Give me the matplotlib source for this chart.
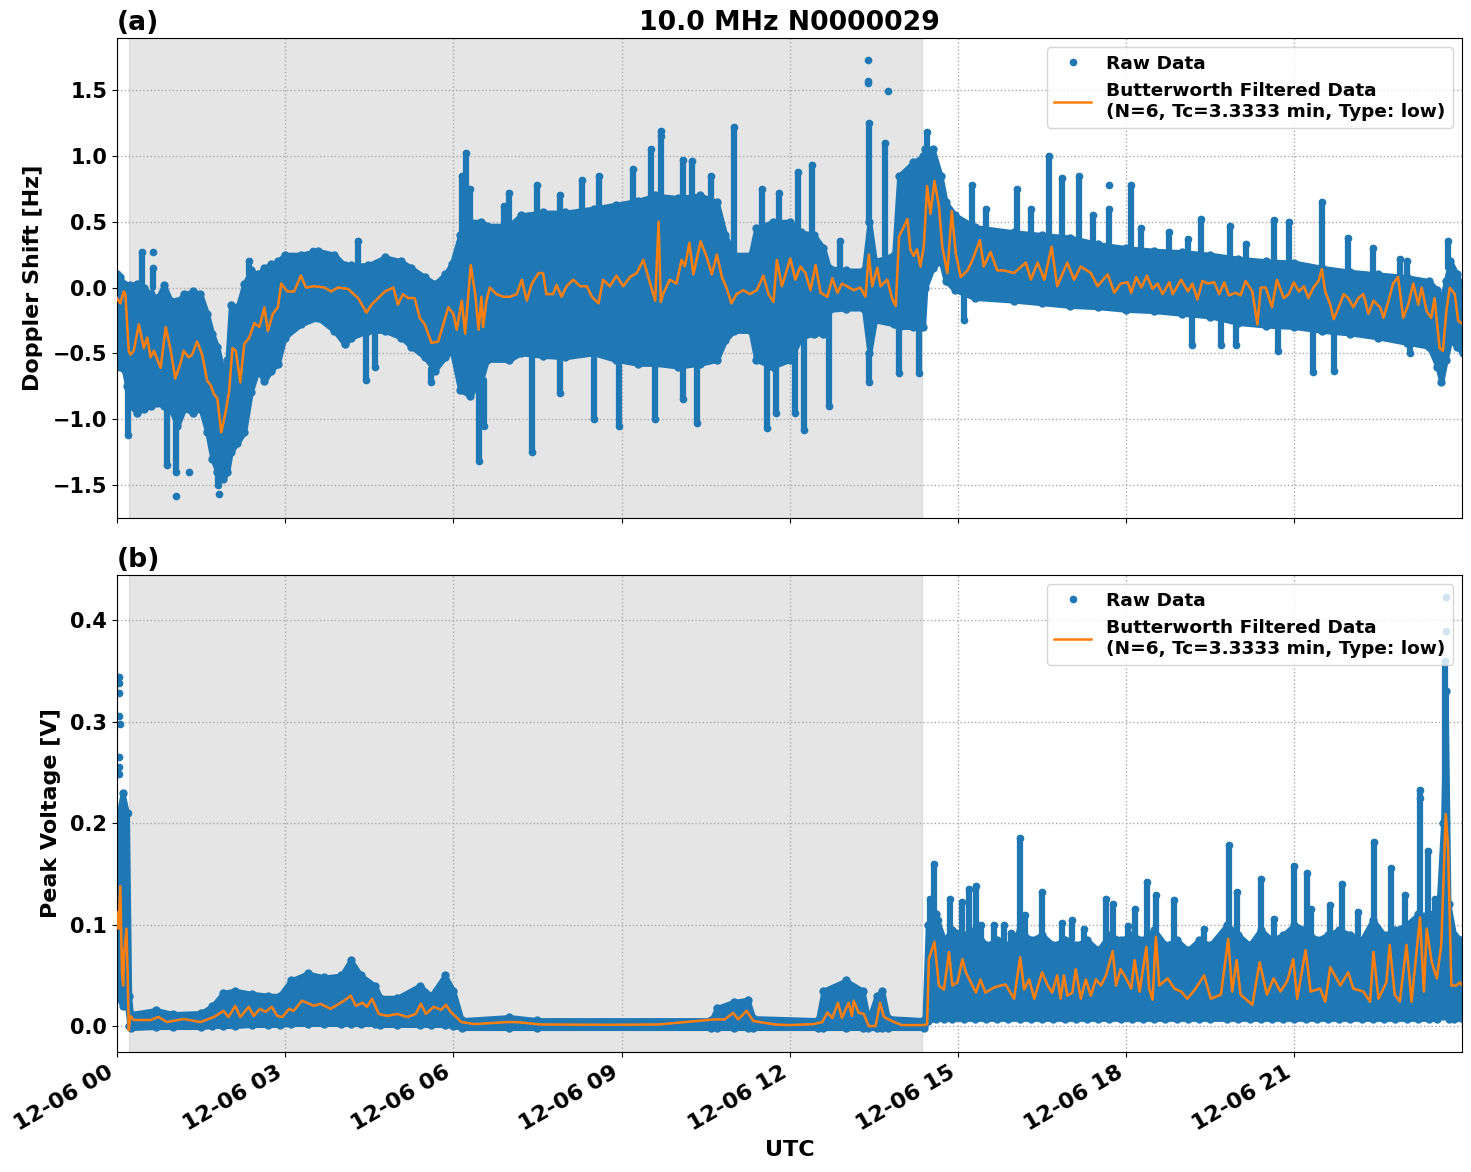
import numpy as np
import pandas as pd
import matplotlib
matplotlib.use("Agg")
import matplotlib.pyplot as plt
import matplotlib.dates as mdates
from matplotlib.lines import Line2D

# ---------------- data (hours after 2024-12-06 00:00 UTC) ----------------
title = "10.0 MHz N0000029"
filt_label = "Butterworth Filtered Data\n(N=6, Tc=3.3333 min, Type: low)"
night_start_h = 0.21
night_end_h = 14.36

# Doppler: filtered line
dop_line_h = [0.00, 0.06, 0.12, 0.15, 0.21, 0.24, 0.30, 0.39, 0.48, 0.54, 0.60, 0.66, 0.75, 0.78, 0.87, 0.96,
              1.04, 1.13, 1.19, 1.28, 1.34, 1.43, 1.52, 1.61, 1.67, 1.73, 1.79, 1.86, 1.94, 2.00, 2.06, 2.12,
              2.20, 2.27, 2.36, 2.45, 2.54, 2.63, 2.69, 2.78, 2.87, 2.93, 3.04, 3.16, 3.28, 3.37, 3.52, 3.70,
              3.82, 3.94, 4.12, 4.30, 4.45, 4.54, 4.66, 4.78, 4.93, 5.01, 5.10, 5.19, 5.31, 5.40, 5.49, 5.61,
              5.73, 5.82, 5.91, 6.00, 6.06, 6.15, 6.21, 6.31, 6.39, 6.45, 6.50, 6.53, 6.59, 6.65, 6.77, 6.89,
              7.01, 7.13, 7.22, 7.31, 7.40, 7.52, 7.60, 7.66, 7.78, 7.84, 7.93, 8.02, 8.14, 8.26, 8.38, 8.47,
              8.59, 8.67, 8.79, 8.91, 9.03, 9.15, 9.27, 9.39, 9.51, 9.60, 9.66, 9.70, 9.74, 9.86, 9.98, 10.07,
              10.13, 10.21, 10.28, 10.41, 10.52, 10.61, 10.70, 10.79, 10.87, 10.96, 11.05, 11.17, 11.29, 11.41,
              11.53, 11.62, 11.71, 11.77, 11.86, 12.01, 12.10, 12.19, 12.28, 12.37, 12.46, 12.55, 12.67, 12.76,
              12.85, 12.93, 13.02, 13.14, 13.26, 13.35, 13.41, 13.47, 13.56, 13.62, 13.74, 13.83, 13.89, 13.95,
              14.01, 14.10, 14.15, 14.21, 14.27, 14.33, 14.39, 14.45, 14.51, 14.58, 14.66, 14.72, 14.81, 14.89,
              14.96, 15.05, 15.17, 15.26, 15.39, 15.46, 15.58, 15.70, 15.82, 16.00, 16.21, 16.30, 16.42, 16.54,
              16.67, 16.77, 16.95, 17.07, 17.19, 17.37, 17.49, 17.67, 17.79, 17.90, 18.03, 18.09, 18.18, 18.27,
              18.37, 18.47, 18.56, 18.65, 18.77, 18.83, 18.98, 19.10, 19.18, 19.27, 19.36, 19.45, 19.57, 19.66,
              19.75, 19.83, 19.95, 20.04, 20.13, 20.25, 20.34, 20.40, 20.49, 20.60, 20.69, 20.81, 20.90, 20.99,
              21.08, 21.17, 21.25, 21.34, 21.43, 21.49, 21.55, 21.64, 21.70, 21.79, 21.88, 21.96, 22.05, 22.14,
              22.23, 22.32, 22.41, 22.53, 22.59, 22.68, 22.76, 22.85, 22.94, 23.03, 23.12, 23.21, 23.27, 23.36,
              23.44, 23.50, 23.59, 23.65, 23.71, 23.77, 23.86, 23.92, 23.98]
dop_line_v = [-0.08, -0.12, -0.03, -0.05, -0.48, -0.51, -0.48, -0.28, -0.46, -0.38, -0.53, -0.48, -0.58, -0.61, -0.30, -0.48,
              -0.69, -0.58, -0.48, -0.53, -0.51, -0.41, -0.51, -0.71, -0.74, -0.81, -0.84, -1.10, -0.94, -0.79, -0.46, -0.48,
              -0.72, -0.43, -0.38, -0.27, -0.30, -0.15, -0.33, -0.20, -0.15, 0.03, -0.03, -0.03, 0.09, 0.00, 0.01, 0.00,
              -0.03, 0.00, -0.01, -0.08, -0.19, -0.13, -0.08, -0.03, 0.00, -0.13, -0.05, -0.08, -0.08, -0.23, -0.28, -0.42,
              -0.41, -0.28, -0.15, -0.20, -0.32, -0.10, -0.35, 0.17, -0.05, -0.32, -0.07, -0.30, -0.10, 0.00, -0.05, -0.07,
              -0.07, -0.05, 0.06, -0.10, 0.03, 0.11, 0.11, -0.05, -0.05, 0.02, -0.07, 0.01, 0.06, 0.01, 0.01, -0.07,
              -0.12, 0.06, 0.01, 0.09, 0.01, 0.08, 0.11, 0.21, 0.03, -0.10, 0.50, -0.11, -0.05, 0.06, 0.03, 0.21,
              0.16, 0.34, 0.10, 0.35, 0.23, 0.10, 0.25, 0.08, 0.00, -0.12, -0.05, -0.02, -0.05, -0.02,
              0.09, -0.05, -0.11, 0.21, 0.01, 0.22, 0.06, 0.16, 0.11, -0.02, 0.17, -0.04, -0.07, 0.07,
              -0.04, 0.03, 0.01, -0.02, 0.00, -0.07, 0.25, 0.01, 0.15, 0.01, 0.06, -0.09, -0.14, 0.39,
              0.44, 0.52, 0.29, 0.24, 0.29, 0.16, 0.31, 0.77, 0.56, 0.81, 0.62, 0.31, 0.11, 0.58,
              0.26, 0.08, 0.13, 0.21, 0.36, 0.16, 0.27, 0.13, 0.13, 0.11, 0.19, 0.06, 0.19, 0.06,
              0.31, 0.01, 0.19, 0.06, 0.16, 0.11, 0.01, 0.10, -0.04, 0.03, 0.04, -0.04, 0.08, 0.00,
              0.09, -0.01, 0.03, -0.05, 0.04, -0.05, 0.06, -0.03, 0.03, -0.09, 0.05, 0.03, 0.04, -0.05,
              0.04, -0.06, -0.04, -0.06, 0.05, -0.03, -0.28, 0.00, 0.00, -0.15, 0.06, -0.08, -0.05, 0.04,
              -0.03, 0.01, -0.08, 0.00, 0.05, 0.14, -0.03, -0.13, -0.24, -0.15, -0.05, -0.08, -0.15, -0.08,
              -0.05, -0.20, -0.10, -0.15, -0.23, -0.10, 0.03, 0.08, -0.23, -0.13, 0.03, -0.13, 0.00, -0.18,
              -0.23, -0.08, -0.46, -0.48, -0.18, 0.00, -0.05, -0.25, -0.27]

# Doppler: dense raw-data band (lower / upper edge)
dop_band_h = [0.00, 0.06, 0.12, 0.18, 0.24, 0.36, 0.48, 0.60, 0.72, 0.84, 0.96, 1.08, 1.20, 1.35, 1.49,
              1.61, 1.70, 1.79, 1.90, 1.97, 2.03, 2.15, 2.27, 2.39, 2.51, 2.63, 2.75, 2.87, 2.99, 3.28, 3.58,
              3.88, 4.06, 4.18, 4.48, 4.78, 5.07, 5.25, 5.49, 5.67, 5.85, 5.97, 6.12, 6.30, 6.50, 6.60, 7.00,
              7.20, 7.60, 8.00, 8.50, 8.90, 9.30, 9.60, 10.00, 10.40, 10.70, 10.85, 11.00, 11.30, 11.40, 11.70,
              12.00, 12.20, 12.43, 12.60, 12.70, 13.00, 13.32, 13.42, 13.52, 13.86, 13.95, 14.20, 14.38, 14.42,
              14.55, 14.69, 14.78, 14.95, 15.30, 16.00, 16.50, 17.00, 17.50, 18.00, 18.50, 19.00, 19.50, 20.00,
              20.50, 21.00, 21.50, 22.00, 22.50, 23.00, 23.40, 23.55, 23.62, 23.70, 23.78, 23.90, 24.00]
dop_band_lo = [-0.55, -0.60, -0.62, -0.75, -0.90, -0.95, -0.92, -0.90, -0.88, -0.90, -0.93, -1.05, -0.92, -0.95,
               -0.92, -1.10, -1.30, -1.40, -1.45, -1.40, -1.25, -1.18, -1.10, -0.79, -0.63, -0.71, -0.63, -0.58,
               -0.38, -0.28, -0.23, -0.33, -0.43, -0.38, -0.33, -0.33, -0.38, -0.45, -0.53, -0.63, -0.53, -0.48,
               -0.78, -0.82, -0.70, -0.55, -0.55, -0.50, -0.52, -0.53, -0.50, -0.55, -0.58, -0.58, -0.60, -0.58,
               -0.55, -0.40, -0.33, -0.33, -0.55, -0.60, -0.55, -0.38, -0.35, -0.35, -0.17, -0.16, -0.16, -0.50,
               -0.25, -0.28, -0.30, -0.30, -0.30, 0.00, 0.15, 0.20, 0.05, -0.02, -0.08, -0.10, -0.12, -0.14, -0.15,
               -0.17, -0.18, -0.20, -0.22, -0.27, -0.29, -0.30, -0.33, -0.35, -0.38, -0.42, -0.45, -0.60, -0.72,
               -0.55, -0.40, -0.45, -0.50]
dop_band_hi = [0.10, 0.08, 0.03, -0.05, 0.02, 0.03, 0.00, -0.05, -0.08, 0.02, -0.10, -0.10, -0.05, -0.03, -0.05,
               -0.20, -0.35, -0.45, -0.65, -0.55, -0.13, -0.15, 0.03, 0.13, 0.10, 0.15, 0.18, 0.20, 0.25, 0.25,
               0.28, 0.25, 0.17, 0.17, 0.17, 0.23, 0.20, 0.15, 0.08, 0.03, 0.10, 0.18, 0.40, 0.50, 0.50, 0.47,
               0.47, 0.55, 0.57, 0.57, 0.60, 0.63, 0.66, 0.70, 0.68, 0.70, 0.65, 0.40, 0.25, 0.25, 0.45, 0.50,
               0.50, 0.42, 0.40, 0.30, 0.15, 0.13, 0.13, 0.50, 0.20, 0.25, 0.85, 0.95, 1.00, 1.05, 1.05, 0.85,
               0.65, 0.55, 0.46, 0.42, 0.40, 0.38, 0.33, 0.30, 0.28, 0.27, 0.25, 0.22, 0.20, 0.19, 0.15, 0.12,
               0.10, 0.08, 0.05, -0.02, -0.10, 0.05, 0.20, 0.10, 0.00]

# Doppler: isolated columns of raw points (time, from, to)
dop_col_h = [0.45, 0.65, 2.35, 3.50, 4.30, 6.15, 6.22, 6.30, 6.90, 7.00, 7.50, 7.90, 8.30, 8.60, 9.20, 9.52,
             9.70, 10.10, 10.25, 10.60, 11.00, 11.50, 11.80, 12.15, 12.40, 12.90, 13.42, 13.70, 14.45, 15.25,
             15.50, 16.05, 16.30, 16.62, 16.85, 17.15, 17.40, 17.70, 18.08, 18.27, 18.77, 19.10, 19.33, 19.85,
             20.13, 20.63, 20.90, 21.49, 21.96, 22.40, 22.88, 23.00, 23.74,
             0.20, 0.90, 1.05, 1.80, 4.45, 4.60, 5.60, 6.45, 6.55, 7.40, 7.90, 8.50, 8.95, 9.60, 10.35, 10.10,
             11.60, 11.75, 12.10, 12.25, 12.70, 13.42, 13.95, 14.30, 15.10, 19.18, 19.69, 19.95, 20.70, 21.34,
             21.70, 23.06]
dop_col_from = [0.00, 0.00, 0.10, 0.25, 0.17, 0.40, 0.45, 0.45, 0.43, 0.43, 0.50, 0.50, 0.50, 0.55, 0.55, 0.60,
                0.60, 0.60, 0.60, 0.60, 0.25, 0.45, 0.50, 0.42, 0.40, 0.13, 0.50, 0.25, 1.00, 0.46,
                0.45, 0.42, 0.40, 0.40, 0.38, 0.36, 0.33, 0.32, 0.30, 0.30, 0.28, 0.27, 0.26, 0.22,
                0.22, 0.20, 0.19, 0.15, 0.12, 0.10, 0.08, 0.08, 0.15,
                -0.60, -0.90, -1.00, -1.40, -0.33, -0.33, -0.62, -0.75, -0.70, -0.45, -0.48, -0.45, -0.50, -0.52,
                -0.52, -0.55, -0.55, -0.60, -0.45, -0.38, -0.17, -0.50, -0.30, -0.30, -0.05, -0.20, -0.23, -0.24,
                -0.29, -0.30, -0.33, -0.42]
dop_col_to = [0.27, 0.15, 0.20, 0.28, 0.35, 0.85, 1.02, 0.75, 0.62, 0.72, 0.78, 0.70, 0.82, 0.85, 0.90, 1.05,
              1.19, 0.97, 0.96, 0.85, 1.22, 0.75, 0.72, 0.88, 0.93, 0.35, 1.25, 1.10, 1.18, 0.78,
              0.60, 0.75, 0.60, 1.00, 0.83, 0.85, 0.55, 0.60, 0.78, 0.45, 0.42, 0.37, 0.52, 0.47,
              0.33, 0.51, 0.50, 0.65, 0.38, 0.30, 0.22, 0.20, 0.35,
              -1.12, -1.35, -1.40, -1.50, -0.70, -0.60, -0.72, -1.32, -1.05, -1.25, -0.80, -1.00, -1.05, -1.00,
              -1.03, -0.85, -1.07, -0.95, -0.95, -1.08, -0.90, -0.72, -0.65, -0.65, -0.25, -0.44, -0.44, -0.44,
              -0.48, -0.64, -0.63, -0.50]

# Doppler: lone raw points
dop_pt_h = [13.40, 13.40, 13.40, 13.75, 1.06, 1.82, 1.28, 17.70, 0.65, 9.70]
dop_pt_v = [1.73, 1.57, 1.55, 1.49, -1.58, -1.57, -1.40, 0.78, 0.27, 1.15]

# Peak voltage: filtered line
pv_line_h = [0.00, 0.03, 0.06, 0.09, 0.11, 0.13, 0.17, 0.19, 0.21, 0.24, 0.30, 0.60, 0.74, 0.89, 1.19, 1.49,
             1.73, 1.90, 1.99, 2.11, 2.20, 2.35, 2.44, 2.55, 2.65, 2.76, 2.86, 2.95, 3.07, 3.15, 3.30, 3.39,
             3.51, 3.63, 3.81, 4.05, 4.17, 4.26, 4.38, 4.46, 4.55, 4.67, 4.82, 5.00, 5.18, 5.33, 5.42, 5.51,
             5.65, 5.78, 5.87, 5.95, 6.07, 6.14, 6.38, 6.97, 7.12, 7.56, 8.75, 9.65, 10.66, 10.84, 10.99,
             11.08, 11.23, 11.35, 11.74, 12.00, 12.43, 12.58, 12.67, 12.76, 12.86, 12.93, 13.05, 13.11, 13.14,
             13.23, 13.32, 13.41, 13.53, 13.61, 13.68, 13.86, 14.00, 14.40, 14.45, 14.48, 14.58, 14.66, 14.75,
             14.84, 14.90, 14.99, 15.08, 15.14, 15.23, 15.32, 15.40, 15.49, 15.64, 15.76, 15.85, 16.00, 16.11,
             16.18, 16.27, 16.36, 16.50, 16.60, 16.68, 16.77, 16.83, 16.89, 16.95, 17.04, 17.10, 17.19, 17.28,
             17.37, 17.46, 17.55, 17.64, 17.76, 17.82, 17.90, 18.00, 18.09, 18.15, 18.24, 18.36, 18.41, 18.47,
             18.53, 18.59, 18.74, 18.86, 18.98, 19.09, 19.24, 19.39, 19.51, 19.69, 19.82, 19.89, 19.97, 20.04,
             20.25, 20.38, 20.51, 20.63, 20.75, 20.87, 20.98, 21.05, 21.20, 21.29, 21.46, 21.55, 21.64, 21.82,
             21.96, 22.05, 22.23, 22.35, 22.41, 22.50, 22.64, 22.70, 22.79, 22.88, 23.00, 23.09, 23.24, 23.31,
             23.36, 23.45, 23.54, 23.62, 23.70, 23.74, 23.80, 23.89, 23.95, 24.00]
pv_line_v = [0.112, 0.096, 0.138, 0.053, 0.040, 0.073, 0.096, 0.053, -0.004, 0.010, 0.006, 0.006, 0.009, 0.004,
             0.007, 0.004, 0.009, 0.015, 0.009, 0.020, 0.009, 0.019, 0.010, 0.017, 0.014, 0.019, 0.010, 0.009,
             0.017, 0.015, 0.025, 0.023, 0.020, 0.022, 0.017, 0.025, 0.030, 0.020, 0.023, 0.019, 0.027, 0.012,
             0.010, 0.012, 0.009, 0.012, 0.022, 0.012, 0.019, 0.016, 0.021, 0.014, 0.008, 0.004, 0.002, 0.004,
             0.004, 0.0016, 0.0013, 0.0016, 0.0066, 0.0066, 0.013, 0.0066, 0.015, 0.005, 0.0016, 0.001, 0.002,
             0.004, 0.0135, 0.008, 0.023, 0.008, 0.023, 0.010, 0.025, 0.013, 0.012, 0.000, 0.000, 0.023, 0.009,
             0.004, 0.001, 0.001, 0.002, 0.066, 0.083, 0.040, 0.036, 0.073, 0.040, 0.043, 0.066, 0.053, 0.043,
             0.033, 0.046, 0.033, 0.038, 0.040, 0.041, 0.027, 0.068, 0.036, 0.046, 0.027, 0.053, 0.040, 0.033,
             0.050, 0.027, 0.050, 0.030, 0.033, 0.056, 0.027, 0.046, 0.030, 0.046, 0.040, 0.050, 0.074, 0.040,
             0.056, 0.047, 0.037, 0.065, 0.034, 0.078, 0.037, 0.026, 0.088, 0.040, 0.047, 0.037, 0.034, 0.027,
             0.037, 0.050, 0.027, 0.031, 0.086, 0.034, 0.065, 0.031, 0.021, 0.063, 0.031, 0.047, 0.034, 0.044,
             0.066, 0.027, 0.075, 0.034, 0.037, 0.024, 0.058, 0.040, 0.053, 0.037, 0.034, 0.024, 0.073, 0.027,
             0.043, 0.080, 0.031, 0.024, 0.080, 0.024, 0.107, 0.034, 0.096, 0.063, 0.047, 0.080, 0.209, 0.177,
             0.040, 0.040, 0.043, 0.040]

# Peak voltage: dense raw-data band
pv_band_h = [0.00, 0.10, 0.18, 0.22, 0.25, 0.70, 1.00, 1.50, 1.70, 1.90, 2.10, 2.40, 2.70, 2.90, 3.10, 3.40,
             3.70, 4.00, 4.17, 4.35, 4.60, 4.70, 5.00, 5.40, 5.60, 5.85, 6.00, 6.15, 7.00, 7.50, 10.60, 10.70,
             11.00, 11.25, 11.35, 12.50, 12.60, 13.00, 13.30, 13.40, 13.55, 13.65, 13.75, 14.40, 14.46, 14.60,
             14.75, 14.90, 15.10, 15.30, 15.50, 15.70, 15.90, 16.10, 16.30, 16.50, 16.70, 16.90, 17.10, 17.30,
             17.50, 17.70, 17.90, 18.10, 18.30, 18.50, 18.70, 18.90, 19.10, 19.30, 19.50, 19.80, 20.00, 20.20,
             20.40, 20.60, 20.80, 21.00, 21.20, 21.40, 21.60, 21.80, 22.00, 22.20, 22.40, 22.60, 22.80, 23.00,
             23.20, 23.40, 23.55, 23.65, 23.70, 23.75, 23.85, 24.00]
pv_band_lo = [0.030, 0.020, 0.020, 0.000, -0.002, -0.001, -0.001, -0.001, 0.000, 0.000, 0.000, 0.001, 0.001,
              0.001, 0.002, 0.002, 0.002, 0.002, 0.002, 0.002, 0.002, 0.001, 0.001, 0.001, 0.001, 0.001, 0.000,
              -0.002, -0.002, -0.002, -0.002, -0.002, -0.002, -0.002, -0.002, -0.002, -0.002, -0.002, -0.002,
              -0.002, -0.002, -0.002, -0.002, -0.002, 0.005, 0.007, 0.007, 0.007, 0.007, 0.007, 0.007, 0.007,
              0.007, 0.007, 0.007, 0.007, 0.007, 0.007, 0.007, 0.007, 0.007, 0.007, 0.007, 0.007, 0.007, 0.007,
              0.007, 0.007, 0.007, 0.007, 0.007, 0.007, 0.007, 0.007, 0.007, 0.007, 0.007, 0.007, 0.007, 0.007,
              0.007, 0.007, 0.007, 0.007, 0.007, 0.007, 0.007, 0.007, 0.007, 0.007, 0.007, 0.010, 0.020, 0.007,
              0.007, 0.007]
pv_band_hi = [0.200, 0.230, 0.210, 0.030, 0.012, 0.016, 0.012, 0.013, 0.020, 0.033, 0.035, 0.032, 0.030,
              0.030, 0.045, 0.052, 0.048, 0.050, 0.065, 0.050, 0.040, 0.028, 0.028, 0.040, 0.030, 0.050, 0.035,
              0.006, 0.009, 0.006, 0.006, 0.018, 0.024, 0.026, 0.008, 0.006, 0.035, 0.045, 0.035, 0.006, 0.030,
              0.035, 0.008, 0.006, 0.100, 0.110, 0.085, 0.095, 0.090, 0.095, 0.080, 0.085, 0.080, 0.095, 0.085,
              0.090, 0.080, 0.085, 0.080, 0.085, 0.075, 0.090, 0.085, 0.090, 0.085, 0.095, 0.080, 0.085, 0.075,
              0.085, 0.080, 0.100, 0.090, 0.080, 0.095, 0.085, 0.090, 0.100, 0.095, 0.085, 0.090, 0.095, 0.090,
              0.085, 0.105, 0.090, 0.095, 0.100, 0.110, 0.110, 0.100, 0.200, 0.330, 0.120, 0.090, 0.085]

# Peak voltage: spikes of raw points (time, from, to)
pv_col_h = [14.51, 14.58, 14.65, 14.86, 15.08, 15.20, 15.32, 15.41, 15.64, 15.82, 15.94, 16.10, 16.20, 16.50,
            16.86, 17.04, 17.25, 17.64, 17.76, 18.03, 18.15, 18.38, 18.53, 18.86, 19.39, 19.83, 19.98, 20.40,
            20.63, 20.99, 21.22, 21.30, 21.64, 21.85, 22.14, 22.42, 22.72, 22.97, 23.24, 23.38, 23.50, 23.69]
pv_col_from = [0.09, 0.10, 0.10, 0.09, 0.09, 0.09, 0.09, 0.085, 0.08, 0.08, 0.08, 0.09, 0.09, 0.085,
               0.085, 0.085, 0.08, 0.08, 0.08, 0.085, 0.085, 0.085, 0.09, 0.085, 0.085, 0.09, 0.085, 0.09,
               0.09, 0.09, 0.09, 0.09, 0.09, 0.09, 0.09, 0.09, 0.09, 0.10, 0.10, 0.10, 0.10, 0.20]
pv_col_to = [0.125, 0.160, 0.105, 0.125, 0.122, 0.135, 0.138, 0.100, 0.100, 0.100, 0.092, 0.185, 0.109, 0.132,
             0.102, 0.105, 0.096, 0.125, 0.120, 0.099, 0.115, 0.142, 0.129, 0.124, 0.096, 0.178, 0.132, 0.145,
             0.106, 0.158, 0.151, 0.115, 0.119, 0.140, 0.112, 0.181, 0.156, 0.129, 0.233, 0.173, 0.125, 0.360]

# Peak voltage: lone raw points
pv_pt_h = [0.04, 0.04, 0.04, 0.04, 0.05, 0.04, 0.04, 0.04, 0.20, 23.70, 23.70, 23.24]
pv_pt_v = [0.344, 0.338, 0.328, 0.306, 0.298, 0.265, 0.255, 0.248, 0.210, 0.423, 0.389, 0.225]

# ---------------- plotting ----------------
plt.rcParams["font.family"] = ["DejaVu Sans"]
plt.rcParams["font.weight"] = "bold"
plt.rcParams["axes.labelweight"] = "bold"
plt.rcParams["axes.titleweight"] = "bold"

start = pd.Timestamp("2024-12-06 00:00")


def T(h):
    return start + pd.to_timedelta(np.asarray(h, dtype=float), unit="h")


raw_c = "#1f77b4"
filt_c = "#ff7f0e"

fig = plt.figure(figsize=(14.71, 11.72), dpi=100)
ax1 = fig.add_axes([0.0795, 0.558, 0.9144, 0.4096])
ax2 = fig.add_axes([0.0795, 0.1024, 0.9144, 0.4070], sharex=ax1)

panels = [
    (ax1, dop_band_h, dop_band_lo, dop_band_hi, dop_col_h, dop_col_from, dop_col_to,
     dop_pt_h, dop_pt_v, dop_line_h, dop_line_v, "Doppler Shift [Hz]", "(a)", (-1.75, 1.895)),
    (ax2, pv_band_h, pv_band_lo, pv_band_hi, pv_col_h, pv_col_from, pv_col_to,
     pv_pt_h, pv_pt_v, pv_line_h, pv_line_v, "Peak Voltage [V]", "(b)", (-0.0255, 0.4445)),
]

for (ax, bh, blo, bhi, ch, cf, ct, ph, pv, lh, lv, ylab, tag, ylim) in panels:
    ax.axvspan(T([night_start_h])[0], T([night_end_h])[0], color="grey", alpha=0.2, zorder=0.5)
    ax.fill_between(T(bh), blo, bhi, color=raw_c, lw=3.5, edgecolor=raw_c, zorder=2)
    ax.plot(T(bh), bhi, "o", color=raw_c, ms=5, zorder=2)
    ax.plot(T(bh), blo, "o", color=raw_c, ms=5, zorder=2)
    lc = ax.vlines(T(ch), cf, ct, color=raw_c, lw=4.5, zorder=2)
    lc.set_capstyle("round")
    ax.plot(T(ch), ct, "o", color=raw_c, ms=4.5, zorder=2)
    ax.plot(T(ph), pv, "o", color=raw_c, ms=4.5, zorder=2)
    ax.plot(T(lh), lv, color=filt_c, lw=1.8, zorder=3)
    ax.set_ylim(*ylim)
    ax.set_ylabel(ylab, fontsize=16, labelpad=7)
    ax.set_title(tag, loc="left", fontsize=19.2)
    ax.grid(True, ls=":", color="#aaaaaa", lw=1.0)
    ax.tick_params(axis="y", labelsize=15)
    ax.tick_params(axis="x", labelsize=16)
    handles = [Line2D([], [], ls="none", marker="o", ms=4.5, color=raw_c, label="Raw Data"),
               Line2D([], [], color=filt_c, lw=1.8, label=filt_label)]
    leg = ax.legend(handles=handles, loc="upper right", fontsize=13.3)
    leg.set_zorder(5)

ax1.set_title(title, fontsize=19.2)
ax1.set_xlim(T([0.0])[0], T([23.99])[0])
ax2.xaxis.set_major_locator(mdates.HourLocator(byhour=range(0, 24, 3)))
ax2.xaxis.set_major_formatter(mdates.DateFormatter("%m-%d %H"))
plt.setp(ax1.get_xticklabels(), visible=False)
plt.setp(ax2.get_xticklabels(), rotation=30, ha="right")
ax2.set_xlabel("UTC", fontsize=16)

fig.savefig("out.png", dpi=100)
